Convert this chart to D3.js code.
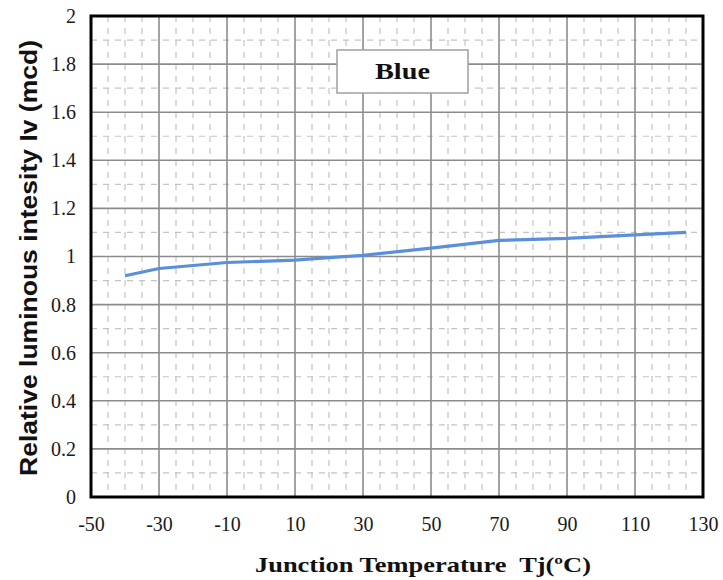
<!DOCTYPE html>
<html><head><meta charset="utf-8">
<script src="https://cdn.jsdelivr.net/npm/d3@7"></script>
<style>body{margin:0;background:#fff}</style>
</head><body>
<svg id="c" width="723" height="580"></svg>
<script>
const temps = [-40, -30, -10, 10, 20, 30, 50, 70, 90, 110, 125];
const intensity = [0.92, 0.95, 0.975, 0.985, 0.995, 1.005, 1.035, 1.067, 1.075, 1.09, 1.10];
const xTicks = [-50, -30, -10, 10, 30, 50, 70, 90, 110, 130];
const yTicks = [0, 0.2, 0.4, 0.6, 0.8, 1, 1.2, 1.4, 1.6, 1.8, 2];
const xMinor = d3.range(-45, 130, 5);
const yMinor = d3.range(0.1, 2, 0.2);
const seriesName = "Blue";

const svg = d3.select("#c");
const L = 91, R = 703, T = 16, B = 497;
const x = d3.scaleLinear().domain([-50, 130]).range([L, R]);
const y = d3.scaleLinear().domain([0, 2]).range([B, T]);
const serif = "Liberation Serif, Times New Roman, serif";

// minor dashed grid
svg.append("g").selectAll("line").data(xMinor.filter(v => (v + 50) % 20 !== 0)).join("line")
  .attr("x1", d => x(d)).attr("x2", d => x(d)).attr("y1", T).attr("y2", B)
  .attr("stroke", "#c4c4c4").attr("stroke-width", 1.2).attr("stroke-dasharray", "6,6");
svg.append("g").selectAll("line").data(yMinor).join("line")
  .attr("y1", d => y(d)).attr("y2", d => y(d)).attr("x1", L).attr("x2", R)
  .attr("stroke", "#c4c4c4").attr("stroke-width", 1.2).attr("stroke-dasharray", "6,6");

// major grid
svg.append("g").selectAll("line").data(xTicks.slice(1, -1)).join("line")
  .attr("x1", d => x(d)).attr("x2", d => x(d)).attr("y1", T).attr("y2", B)
  .attr("stroke", "#8c8c8c").attr("stroke-width", 1.6);
svg.append("g").selectAll("line").data(yTicks.slice(1, -1)).join("line")
  .attr("y1", d => y(d)).attr("y2", d => y(d)).attr("x1", L).attr("x2", R)
  .attr("stroke", "#8c8c8c").attr("stroke-width", 1.6);

// legend box
const bx = 337, by = 50, bw = 131, bh = 43;
svg.append("rect").attr("x", bx).attr("y", by).attr("width", bw).attr("height", bh)
  .attr("fill", "#fff").attr("stroke", "#a0a0a0").attr("stroke-width", 1.5);
svg.append("text").attr("x", bx + bw / 2).attr("y", 79).attr("text-anchor", "middle")
  .attr("font-family", serif).attr("font-weight", "bold")
  .attr("font-size", 24).attr("textLength", 55).attr("lengthAdjust", "spacingAndGlyphs")
  .attr("fill", "#111").text(seriesName);

// data line
svg.append("path").datum(temps.map((t, i) => [t, intensity[i]]))
  .attr("d", d3.line().x(d => x(d[0])).y(d => y(d[1])))
  .attr("fill", "none").attr("stroke", "#5a8fdc").attr("stroke-width", 3.2)
  .attr("stroke-linejoin", "round");

// frame
svg.append("rect").attr("x", L).attr("y", T).attr("width", R - L).attr("height", B - T)
  .attr("fill", "none").attr("stroke", "#000").attr("stroke-width", 3);

// axes via d3 axes
const xa = svg.append("g").attr("transform", `translate(0,${B})`)
  .call(d3.axisBottom(x).tickValues(xTicks).tickSize(0).tickPadding(20).tickFormat(d => String(d)));
xa.select(".domain").remove();
xa.selectAll("text").attr("font-family", serif)
  .attr("font-size", 20).attr("fill", "#1a1a1a");

const ya = svg.append("g").attr("transform", `translate(${L},0)`)
  .call(d3.axisLeft(y).tickValues(yTicks).tickSize(0).tickPadding(15).tickFormat(d => String(+d.toFixed(1))));
ya.select(".domain").remove();
ya.selectAll("text").attr("font-family", serif)
  .attr("font-size", 20).attr("fill", "#1a1a1a");

// titles
svg.append("text").attr("x", 423).attr("y", 572).attr("text-anchor", "middle")
  .attr("font-family", serif).attr("font-weight", "bold")
  .attr("font-size", 22).attr("fill", "#111").attr("xml:space", "preserve")
  .attr("textLength", 336).attr("lengthAdjust", "spacingAndGlyphs")
  .text("Junction Temperature  Tj(ºC)");
svg.append("text").attr("transform", "translate(37,258) rotate(-90)").attr("text-anchor", "middle")
  .attr("font-family", "Liberation Sans, Arial, sans-serif").attr("font-weight", "bold")
  .attr("font-size", 23).attr("fill", "#111")
  .attr("textLength", 436).attr("lengthAdjust", "spacingAndGlyphs")
  .text("Relative luminous intesity Iv (mcd)");
</script>
</body></html>
